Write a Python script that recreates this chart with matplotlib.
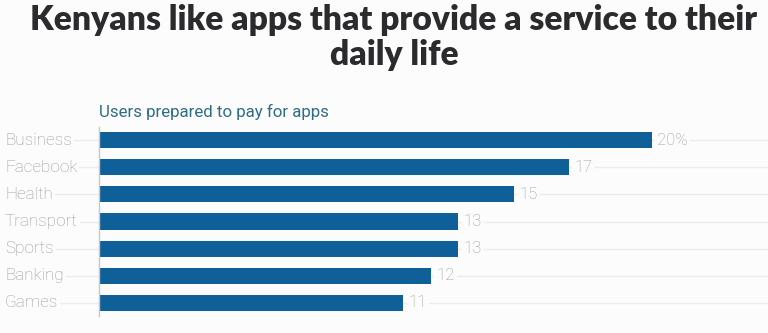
import matplotlib
matplotlib.use("Agg")
import matplotlib.pyplot as plt

categories = ["Business", "Facebook", "Health", "Transport", "Sports", "Banking", "Games"]
values = [20, 17, 15, 13, 13, 12, 11]
value_labels = ["20%", "17", "15", "13", "13", "12", "11"]

title_lines = ["Kenyans like apps that provide a service to their", "daily life"]
subtitle = "Users prepared to pay for apps"

BG = "#fdfcfd"
BAR = "#0f5f98"
GRID = "#ececec"
LABEL = "#999999"

W, H = 768, 333
fig = plt.figure(figsize=(W / 100, H / 100), dpi=100, facecolor=BG)

# Plot area in pixel coordinates
x0, x1 = 99, 768
y_top, y_bot = 127, 316
ax = fig.add_axes([x0 / W, 1 - y_bot / H, (x1 - x0) / W, (y_bot - y_top) / H])
ax.set_facecolor("none")

ypos = list(range(len(categories)))
ax.set_xlim(0, 24.2)
ax.set_ylim(len(categories) - 1 + 0.48, -0.48)

# light horizontal guide lines running from the labels to the right edge
for y in ypos:
    ax.plot([-3.4, 24.2], [y, y], color=GRID, lw=1, zorder=0, clip_on=False,
            solid_capstyle="butt")

ax.barh(ypos, values, height=0.59, color=BAR, zorder=2)

for y, v, lab in zip(ypos, values, value_labels):
    ax.text(v + 0.2, y, lab, va="center", ha="left", fontsize=12,
            color=LABEL, family="Roboto", fontweight="light",
            bbox=dict(facecolor=BG, edgecolor="none", pad=1.5), zorder=3)

for y, c in zip(ypos, categories):
    ax.text(-3.4, y, c, va="center", ha="left", fontsize=12.3, color=LABEL,
            family="Roboto", fontweight="light",
            bbox=dict(facecolor=BG, edgecolor="none", pad=1.5), zorder=3)

for s in ["top", "right", "bottom"]:
    ax.spines[s].set_visible(False)
ax.spines["left"].set_color("#c8c8c8")
ax.spines["left"].set_linewidth(1)
ax.set_xticks([])
ax.set_yticks([])

for line, base in zip(title_lines, [30, 65]):
    fig.text(394 / W, 1 - base / H, line, ha="center", va="baseline",
             fontsize=24.2, fontweight="heavy", color="#2b2b2e", family="Lato")
fig.text(x0 / W, 1 - 112 / H, subtitle, ha="left", va="center", fontsize=12.2,
         color="#2c6e84", family="Roboto")

fig.savefig("out.png", dpi=100, facecolor=BG)
